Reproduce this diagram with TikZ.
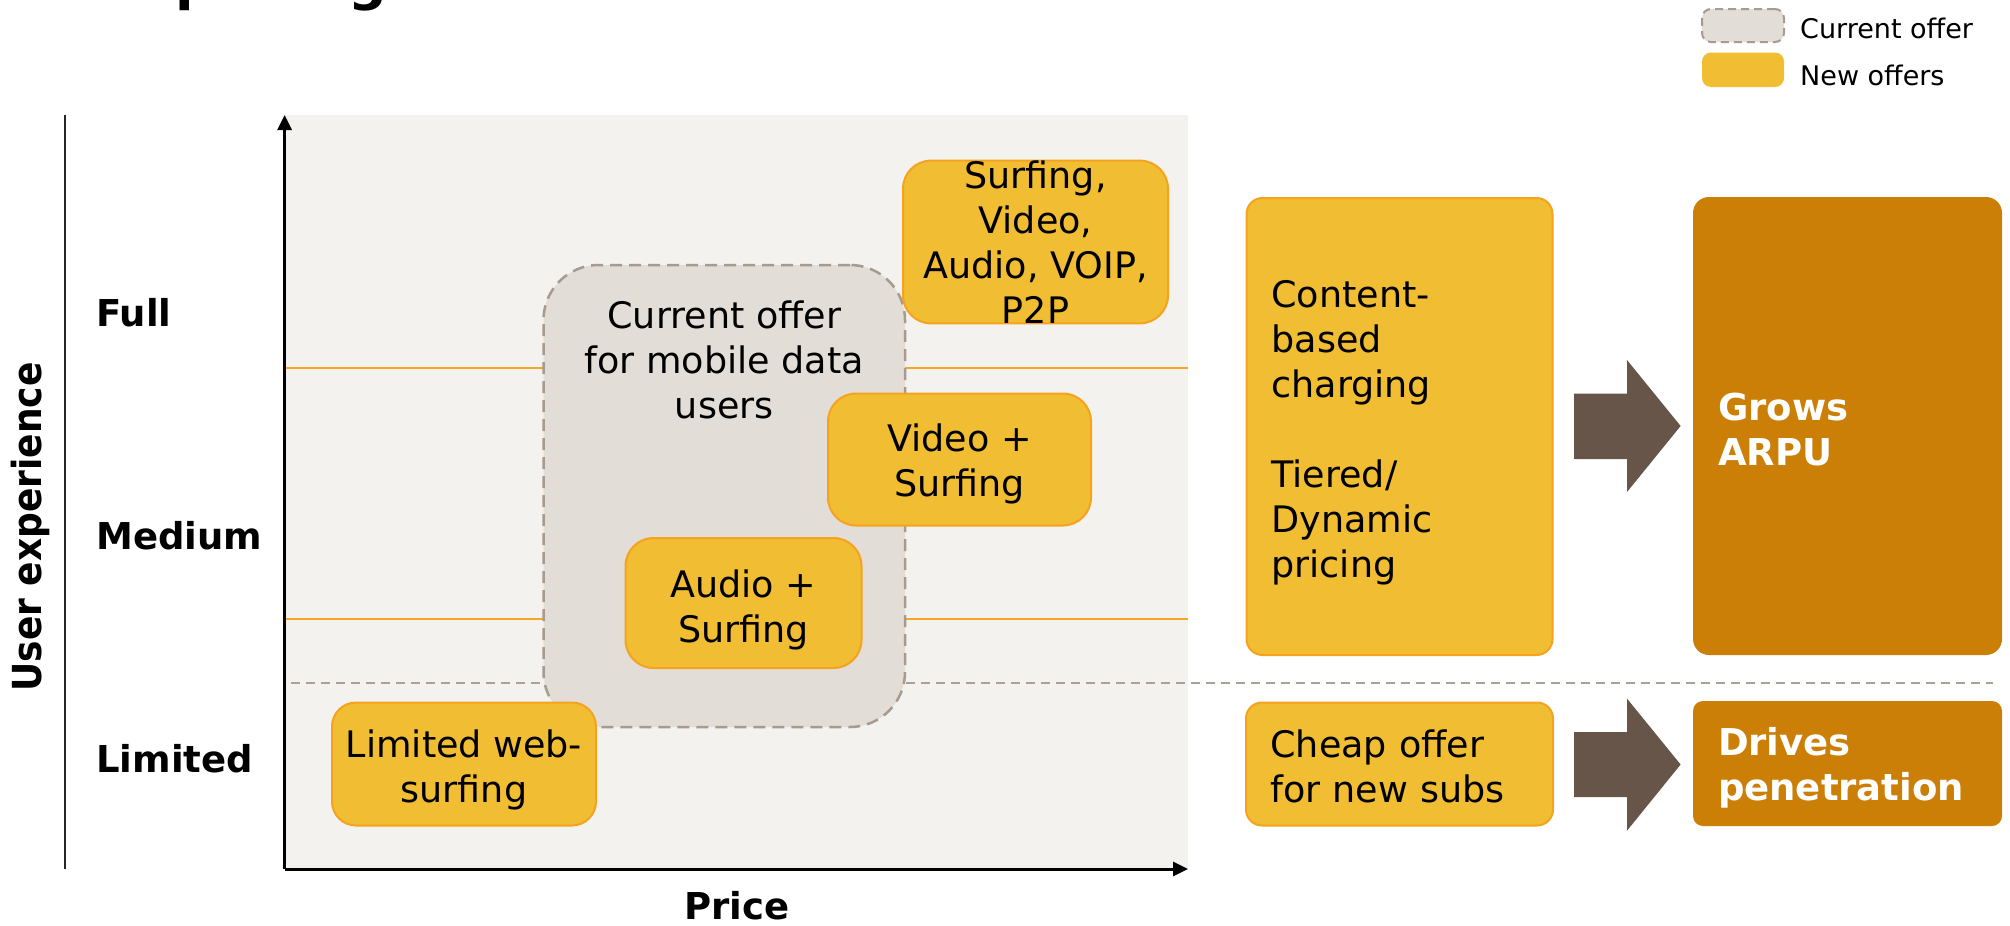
\documentclass[tikz,border=0pt]{standalone}
\usepackage{fontspec}
\setmainfont{DejaVu Sans}
\newfontfamily\condfont[FakeStretch=0.9]{DejaVu Sans}
\usetikzlibrary{arrows.meta}

% an invisible strut that lowers a centred block of lines
\newcommand\topgap[1]{\rule{0pt}{#1}}

\definecolor{panel}{HTML}{F3F2EE}
\definecolor{curfill}{HTML}{E2DED7}
\definecolor{curdash}{HTML}{A89A8C}
\definecolor{offeryellow}{HTML}{F0BD33}
\definecolor{offeredge}{HTML}{F5A31F}
\definecolor{resultorange}{HTML}{CC7F06}
\definecolor{blockarrow}{HTML}{665548}
\definecolor{levelline}{HTML}{F5A623}
\definecolor{divider}{HTML}{ABA097}

\tikzset{
  boxtext/.style={font=\fontsize{36.5}{45}\selectfont},
  boldtext/.style={font=\bfseries\fontsize{37}{45}\selectfont},
  newoffer/.style={draw=offeredge, line width=2pt, fill=offeryellow,
    rounded corners=28pt, inner sep=0pt, align=center, boxtext},
  sidebox/.style={draw=offeredge, line width=2pt, fill=offeryellow,
    rounded corners=16pt, inner sep=0pt, align=left, boxtext},
  resultbox/.style={fill=resultorange, rounded corners=16pt, inner sep=0pt,
    align=left, text=white, boldtext},
  curbox/.style={draw=curdash, fill=curfill, line width=2.5pt,
    dash pattern=on 12pt off 7pt, rounded corners=55pt},
  levellabel/.style={anchor=west, inner sep=0pt, boldtext},
  levelrule/.style={draw=levelline, line width=2pt},
  axisline/.style={line width=3pt, -{Triangle[width=14pt,length=15pt]}},
  legendtext/.style={anchor=west, inner sep=0pt, font=\fontsize{27}{30}\selectfont},
  arrowfill/.style={fill=blockarrow}
}

\begin{document}
\begin{tikzpicture}[x=1pt,y=-1pt]
\useasboundingbox (0,0) rectangle (2010,926);

% heading, running off the top edge
\begin{scope}
  \clip (0,0) rectangle (2010,926);
  \node[anchor=base west, inner sep=0pt, font=\bfseries\fontsize{54}{60}\selectfont]
    (heading) at (13,-1) {Data pricing};
\end{scope}

% legend
\node[curbox, rounded corners=9pt, dash pattern=on 8pt off 5pt, line width=2pt,
  minimum width=82pt, minimum height=33pt, inner sep=0pt] (legcur) at (1743,25.5) {};
\node[newoffer, rounded corners=9pt, draw=none, minimum width=82pt,
  minimum height=34.5pt] (legnew) at (1743,69.75) {};
\node[legendtext] (legcurtxt) at (1800,28) {Current offer};
\node[legendtext] (legnewtxt) at (1800,75.5) {New offers};

% chart background and level rules
\fill[panel] (284.6,115) rectangle (1188,869);
\draw[levelrule] (284.6,368) -- (1188,368);
\draw[levelrule] (284.6,619) -- (1188,619);
\coordinate (divL) at (291,683);
\coordinate (divR) at (1993,683);
\draw[divider, line width=2pt, dash pattern=on 9pt off 6pt] (divL) -- (divR);

% side axis rule and labels
\coordinate (sideT) at (65.4,115);
\coordinate (sideB) at (65.4,869);
\draw[line width=2pt, black!85] (sideT) -- (sideB);
\node[rotate=90, inner sep=0pt, font=\condfont\bfseries\fontsize{40}{45}\selectfont]
  (uxlabel) at (30.5,527) {User experience};
\node[levellabel] (full) at (96,313) {Full};
\node[levellabel] (medium) at (96,536) {Medium};
\node[levellabel] (limited) at (96,759) {Limited};

% current offer
\node[curbox, minimum width=361.5pt, minimum height=462pt, inner sep=0pt]
  (current) at (724.25,496) {};
\node[boxtext, align=center, anchor=north, inner sep=0pt]
  (currenttxt) at (724.25,301) {Current offer\\for mobile data\\users};

% new offers on the chart
\node[newoffer, minimum width=265pt, minimum height=162pt]
  (allin) at (1035.5,242) {Surfing,\\Video,\\Audio, VOIP,\\P2P};
\node[newoffer, minimum width=263pt, minimum height=132pt]
  (video) at (959.5,459.5) {\topgap{37.5pt}Video +\\Surfing};
\node[newoffer, minimum width=236pt, minimum height=130pt]
  (audio) at (743.5,603) {\topgap{41pt}Audio +\\Surfing};
\node[newoffer, minimum width=264pt, minimum height=123pt, rounded corners=24pt]
  (websurf) at (464,764) {\topgap{40pt}Limited web-\\surfing};

% axes
\coordinate (origin) at (284.6,869);
\coordinate (ytip) at (284.6,115);
\coordinate (xtip) at (1188,869);
\draw[axisline] (origin) -- (ytip);
\draw[axisline] (origin) -- (xtip);
\node[boldtext, inner sep=0pt] (price) at (737,906) {Price};

% pricing models
\node[sidebox, minimum width=306pt, minimum height=457pt, text width=256pt]
  (content) at (1399.5,426.5)
  {\topgap{39.5pt}Content-\\based\\charging\\[45pt]Tiered/\\Dynamic\\pricing};
\node[sidebox, minimum width=307pt, minimum height=123pt, text width=258pt]
  (cheap) at (1399.5,764)
  {\topgap{32.5pt}Cheap offer\\for new subs};

% outcomes
\node[resultbox, minimum width=309pt, minimum height=458pt, text width=259pt]
  (arpu) at (1847.5,426) {\topgap{35.5pt}Grows\\ARPU};
\node[resultbox, rounded corners=10pt, minimum width=309pt, minimum height=125pt,
  text width=259pt] (penetration) at (1847.5,763.5) {\topgap{37.5pt}Drives\\penetration};

% block arrows from models to outcomes
\fill[arrowfill] (1574,393.5) -- (1627,393.5) -- (1627,360) -- (1680.6,426)
  -- (1627,492) -- (1627,459) -- (1574,459) -- cycle;
\fill[arrowfill] (1574,732) -- (1627,732) -- (1627,698.6) -- (1680.6,764.5)
  -- (1627,830.7) -- (1627,797) -- (1574,797) -- cycle;
\end{tikzpicture}
\end{document}
